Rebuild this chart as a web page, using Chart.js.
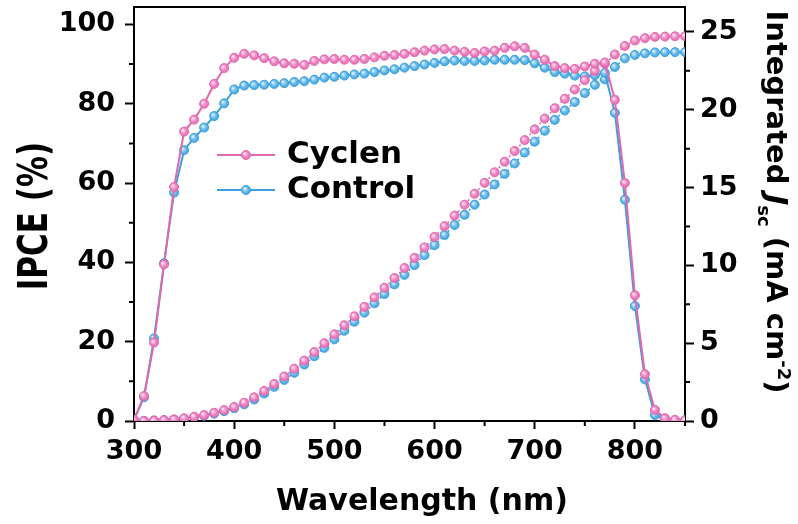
<!DOCTYPE html>
<html>
<head>
<meta charset="utf-8">
<script src="https://cdn.jsdelivr.net/npm/chart.js@4.4.1/dist/chart.umd.min.js"></script>
<style>
  html, body { margin: 0; padding: 0; background: #fff; }
  #wrap { width: 798px; height: 524px; position: relative; }
</style>
</head>
<body>
<div id="wrap"><canvas id="c"></canvas></div>
<script>
// Wavelength grid (nm)
const wavelengths = [300,310,320,330,340,350,360,370,380,390,400,410,420,430,440,450,460,470,480,490,
  500,510,520,530,540,550,560,570,580,590,600,610,620,630,640,650,660,670,680,690,
  700,710,720,730,740,750,760,770,780,790,800,810,820,830,840,850];

// IPCE (%)
const ipceCyclen = [0.3,6.3,19.8,39.5,59,73,76,80,85,89,91.6,92.6,92.2,91.5,90.7,90.2,90.1,89.8,90.8,91.2,
  91.3,91.1,91.1,91.3,91.7,92.1,92.3,92.6,93.0,93.4,93.7,93.8,93.4,93.1,92.8,93.2,93.4,94.1,94.5,94.1,
  92.4,91.1,89.5,89.0,88.8,89.4,90.1,90.4,81,60,31.7,11.8,2.8,0.7,0.3,0.2];
const ipceControl = [0.3,6.0,20.8,39.8,57.6,68.3,71.4,74,76.9,80.1,83.6,84.6,84.7,84.8,85.0,85.2,85.5,85.7,86.1,86.6,
  86.8,87.1,87.4,87.6,88.0,88.4,88.7,89.1,89.5,89.9,90.3,90.7,90.9,90.8,90.8,90.9,91.1,91.1,91.1,91.0,
  90.2,89.1,88.0,87.6,87.1,86.9,87.2,87.8,77.7,55.8,29,10.5,1.5,0.4,0.2,0.1];

// Integrated Jsc (mA cm^-2)
const jscCyclen = [0,0.01,0.03,0.06,0.1,0.17,0.27,0.38,0.53,0.7,0.9,1.18,1.52,1.93,2.38,2.86,3.36,3.88,4.43,5.0,
  5.57,6.15,6.73,7.33,7.94,8.56,9.19,9.83,10.48,11.15,11.83,12.52,13.2,13.9,14.6,15.3,15.98,16.66,17.35,18.05,
  18.74,19.43,20.1,20.7,21.3,21.9,22.5,22.95,23.55,24.1,24.45,24.6,24.68,24.7,24.72,24.72];
const jscControl = [0,0.01,0.03,0.06,0.09,0.15,0.24,0.34,0.47,0.63,0.82,1.07,1.38,1.77,2.2,2.64,3.1,3.63,4.16,4.7,
  5.25,5.8,6.38,6.96,7.56,8.16,8.78,9.39,10.02,10.66,11.3,11.95,12.6,13.25,13.9,14.55,15.2,15.88,16.55,17.25,
  17.95,18.65,19.35,19.95,20.5,21.07,21.6,21.95,22.75,23.3,23.52,23.62,23.68,23.7,23.7,23.7];

// Axis ticks
const xMajorTicks = [300,400,500,600,700,800];
const xMinorTicks = [350,450,550,650,750,850];
const ipceMajorTicks = [0,20,40,60,80,100];
const ipceMinorTicks = [10,30,50,70,90];
const jscMajorTicks = [0,5,10,15,20,25];
const jscMinorTicks = [2.5,7.5,12.5,17.5,22.5];

const seriesNames = ['Cyclen', 'Control'];

const PINK = { line: '#e268ae', fill: '#ee85c3', glow: '#fde3f2' };
const BLUE = { line: '#3d9fdb', fill: '#63b9ea', glow: '#dff1fc' };
const FONT = '"DejaVu Sans", sans-serif';
const R = 4.5;

const toXY = (ys) => wavelengths.map((w, i) => ({ x: w, y: ys[i] }));

// glossy round marker fill
function sphere(ctx2d, px, py, c) {
  const g = ctx2d.createRadialGradient(px - 1.5, py - 1.5, 0.3, px, py, R + 0.5);
  g.addColorStop(0, c.glow);
  g.addColorStop(0.55, c.fill);
  g.addColorStop(1, c.line);
  return g;
}

function makeSet(label, ys, axisId, c, dashed) {
  return {
    label, data: toXY(ys), yAxisID: axisId,
    borderColor: c.line,
    borderWidth: dashed ? 1.5 : 2,
    borderDash: dashed ? [2, 3] : [],
    pointRadius: R, pointBorderWidth: 1,
    pointBorderColor: c.line,
    pointBackgroundColor: (ctx) => {
      const ch = ctx.chart;
      if (!ctx.parsed || !ch.scales.x || !ch.scales[axisId]) return c.fill;
      const px = ch.scales.x.getPixelForValue(ctx.parsed.x);
      const py = ch.scales[axisId].getPixelForValue(ctx.parsed.y);
      if (!Number.isFinite(px) || !Number.isFinite(py)) return c.fill;
      return sphere(ch.ctx, px, py, c);
    },
    tension: 0
  };
}

const fixTicks = (list) => (axis) => { axis.ticks = list.map(v => ({ value: v })); };

// minor ticks, top frame line, axis titles and the in-plot legend
const decorations = {
  id: 'decorations',
  afterDraw(chart) {
    const ctx = chart.ctx;
    const { left, right, top, bottom } = chart.chartArea;
    const sx = chart.scales.x, sy = chart.scales.y, sy1 = chart.scales.y1;
    ctx.save();
    ctx.strokeStyle = '#000';
    ctx.lineWidth = 2;
    ctx.beginPath();
    ctx.moveTo(left - 1, top); ctx.lineTo(right + 1, top);
    xMinorTicks.forEach(v => { const p = sx.getPixelForValue(v); ctx.moveTo(p, bottom); ctx.lineTo(p, bottom + 5); });
    ipceMinorTicks.forEach(v => { const p = sy.getPixelForValue(v); ctx.moveTo(left, p); ctx.lineTo(left - 5, p); });
    jscMinorTicks.forEach(v => { const p = sy1.getPixelForValue(v); ctx.moveTo(right, p); ctx.lineTo(right + 5, p); });
    ctx.stroke();

    ctx.fillStyle = '#000';
    // x title
    ctx.font = 'bold 30px ' + FONT;
    ctx.textAlign = 'center';
    ctx.textBaseline = 'alphabetic';
    ctx.fillText('Wavelength (nm)', 422, 510);

    // left title
    ctx.save();
    ctx.translate(47, 216);
    ctx.scale(1.3, 1);
    ctx.rotate(-Math.PI / 2);
    ctx.font = 'bold 31px ' + FONT;
    ctx.textAlign = 'center';
    ctx.fillText('IPCE (%)', 0, 0);
    ctx.restore();

    // right title with italic J, subscript and superscript
    const big = 'bold 29px ' + FONT, bigIt = 'italic bold 29px ' + FONT, small = 'bold 18px ' + FONT;
    const parts = [
      { t: 'Integrated ', f: big, dy: 0 },
      { t: 'J', f: bigIt, dy: 0 },
      { t: 'sc', f: small, dy: 9 },
      { t: ' (mA cm', f: big, dy: 0 },
      { t: '-2', f: small, dy: -11 },
      { t: ')', f: big, dy: 0 }
    ];
    let total = 0;
    parts.forEach(p => { ctx.font = p.f; p.w = ctx.measureText(p.t).width; total += p.w; });
    ctx.save();
    ctx.translate(767, 202);
    ctx.rotate(Math.PI / 2);
    ctx.textAlign = 'left';
    let xpos = -total / 2;
    parts.forEach(p => { ctx.font = p.f; ctx.fillText(p.t, xpos, p.dy); xpos += p.w; });
    ctx.restore();

    // legend
    const rows = [
      { name: seriesNames[0], c: PINK, y: 155 },
      { name: seriesNames[1], c: BLUE, y: 190 }
    ];
    rows.forEach(r => {
      ctx.strokeStyle = r.c.line; ctx.lineWidth = 2;
      ctx.beginPath(); ctx.moveTo(217, r.y); ctx.lineTo(275, r.y); ctx.stroke();
      ctx.beginPath(); ctx.arc(246, r.y, R, 0, Math.PI * 2);
      ctx.fillStyle = sphere(ctx, 246, r.y, r.c); ctx.fill();
      ctx.lineWidth = 1; ctx.stroke();
      ctx.fillStyle = '#000';
      ctx.font = 'bold 31px ' + FONT;
      ctx.textAlign = 'left'; ctx.textBaseline = 'middle';
      ctx.fillText(r.name, 287, r.y);
    });
    ctx.restore();
  }
};

new Chart(document.getElementById('c'), {
  type: 'line',
  data: {
    datasets: [
      makeSet(seriesNames[0] + ' IPCE', ipceCyclen, 'y', PINK, false),
      makeSet(seriesNames[0] + ' Jsc', jscCyclen, 'y1', PINK, true),
      makeSet(seriesNames[1] + ' IPCE', ipceControl, 'y', BLUE, false),
      makeSet(seriesNames[1] + ' Jsc', jscControl, 'y1', BLUE, true)
    ]
  },
  options: {
    responsive: true,
    maintainAspectRatio: false,
    devicePixelRatio: 1,
    animation: false,
    layout: { padding: { top: 7, left: 0, right: 0, bottom: 0 } },
    plugins: { legend: { display: false }, tooltip: { enabled: false } },
    scales: {
      x: {
        type: 'linear', min: 300, max: 850,
        afterBuildTicks: fixTicks(xMajorTicks),
        afterFit: (s) => { s.height = 103; s.paddingLeft = 0; s.paddingRight = 0; },
        grid: { drawOnChartArea: false, drawTicks: true, tickLength: 8, tickWidth: 2, tickColor: '#000' },
        border: { display: true, color: '#000', width: 2 },
        ticks: { padding: 7, color: '#000', font: { family: FONT, weight: 'bold', size: 27 }, maxRotation: 0 }
      },
      y: {
        position: 'left', min: 0, max: 104.4,
        afterBuildTicks: fixTicks(ipceMajorTicks),
        afterFit: (s) => { s.width = 134; s.paddingTop = 0; s.paddingBottom = 0; },
        grid: { drawOnChartArea: false, drawTicks: true, tickLength: 9, tickWidth: 2, tickColor: '#000' },
        border: { display: true, color: '#000', width: 2 },
        ticks: { padding: 10, color: '#000', font: { family: FONT, weight: 'bold', size: 27 } }
      },
      y1: {
        position: 'right', min: 0, max: 26.6,
        afterBuildTicks: fixTicks(jscMajorTicks),
        afterFit: (s) => { s.width = 113; s.paddingTop = 0; s.paddingBottom = 0; },
        grid: { drawOnChartArea: false, drawTicks: true, tickLength: 9, tickWidth: 2, tickColor: '#000' },
        border: { display: true, color: '#000', width: 2 },
        ticks: { padding: 6, color: '#000', font: { family: FONT, weight: 'bold', size: 27 } }
      }
    }
  },
  plugins: [decorations]
});
</script>
</body>
</html>
